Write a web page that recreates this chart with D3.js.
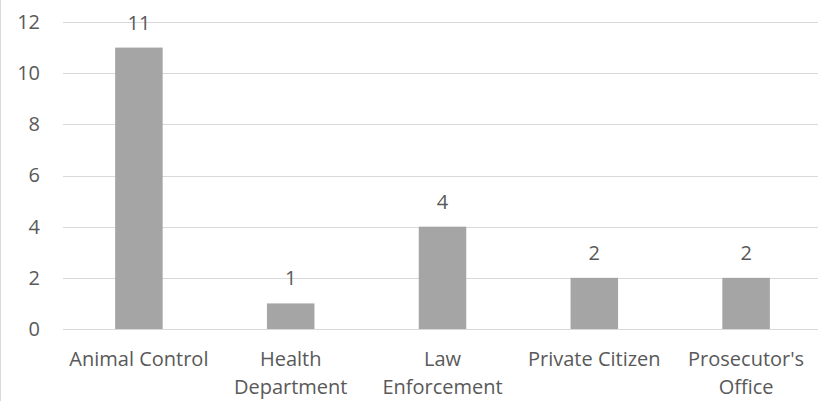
<!DOCTYPE html>
<html>
<head>
<meta charset="utf-8">
<script src="https://cdn.jsdelivr.net/npm/d3@7"></script>
<style>
  html, body { margin: 0; padding: 0; background: #fff; overflow: hidden; }
  text { font-family: "Open Sans", sans-serif; fill: #595959; }
</style>
</head>
<body>
<svg id="chart"></svg>
<script>
const categories = [
  ['Animal Control'],
  ['Health', 'Department'],
  ['Law', 'Enforcement'],
  ['Private Citizen'],
  ["Prosecutor's", 'Office']
];
const values = [11, 1, 4, 2, 2];
const yTicks = [0, 2, 4, 6, 8, 10, 12];

const W = 818, H = 401;
const margin = { top: 22, right: -4, bottom: 72, left: 63 };
const width = W - margin.left - margin.right;
const height = H - margin.top - margin.bottom;
const fontSize = '20px';

const svg = d3.select('#chart').attr('width', W).attr('height', H);

// chart area border (only the left edge is visible in the frame)
svg.append('line')
  .attr('x1', 0.5).attr('x2', 0.5).attr('y1', 0).attr('y2', H)
  .attr('stroke', '#d9d9d9');

const g = svg.append('g').attr('transform', `translate(${margin.left},${margin.top})`);

const x = d3.scaleBand()
  .domain(d3.range(categories.length))
  .range([0, width])
  .paddingInner(0.687)
  .paddingOuter(0.3435);
const y = d3.scaleLinear().domain([0, 12]).range([height, 0]);

// gridlines
g.selectAll('.grid')
  .data(yTicks)
  .enter()
  .append('line')
  .attr('x1', 0).attr('x2', width)
  .attr('y1', d => Math.round(y(d)) + 0.5)
  .attr('y2', d => Math.round(y(d)) + 0.5)
  .attr('stroke', '#d9d9d9')
  .attr('stroke-width', 1);

// y axis labels
const yAxis = d3.axisLeft(y).tickValues(yTicks).tickSize(0).tickPadding(23);
g.append('g').call(yAxis)
  .call(a => a.select('.domain').remove())
  .selectAll('text')
  .style('font-family', '"Open Sans", sans-serif')
  .style('font-size', fontSize)
  .attr('fill', '#595959');

// bars
g.selectAll('rect')
  .data(values)
  .enter()
  .append('rect')
  .attr('x', (d, i) => x(i))
  .attr('y', d => y(d))
  .attr('width', x.bandwidth())
  .attr('height', d => height - y(d))
  .attr('fill', '#a5a5a5');

// value labels
g.selectAll('.val')
  .data(values)
  .enter()
  .append('text')
  .attr('class', 'val')
  .attr('x', (d, i) => x(i) + x.bandwidth() / 2)
  .attr('y', d => y(d) - 18)
  .attr('text-anchor', 'middle')
  .style('font-size', fontSize)
  .text(d => d);

// x axis labels
const xl = g.selectAll('.xl')
  .data(categories)
  .enter()
  .append('text')
  .attr('class', 'xl')
  .attr('text-anchor', 'middle')
  .attr('transform', (d, i) => `translate(${x(i) + x.bandwidth() / 2},${height + 37})`)
  .style('font-size', fontSize);
xl.selectAll('tspan')
  .data(d => d)
  .enter()
  .append('tspan')
  .attr('x', 0)
  .attr('y', (d, i) => i * 28)
  .text(d => d);
</script>
</body>
</html>
